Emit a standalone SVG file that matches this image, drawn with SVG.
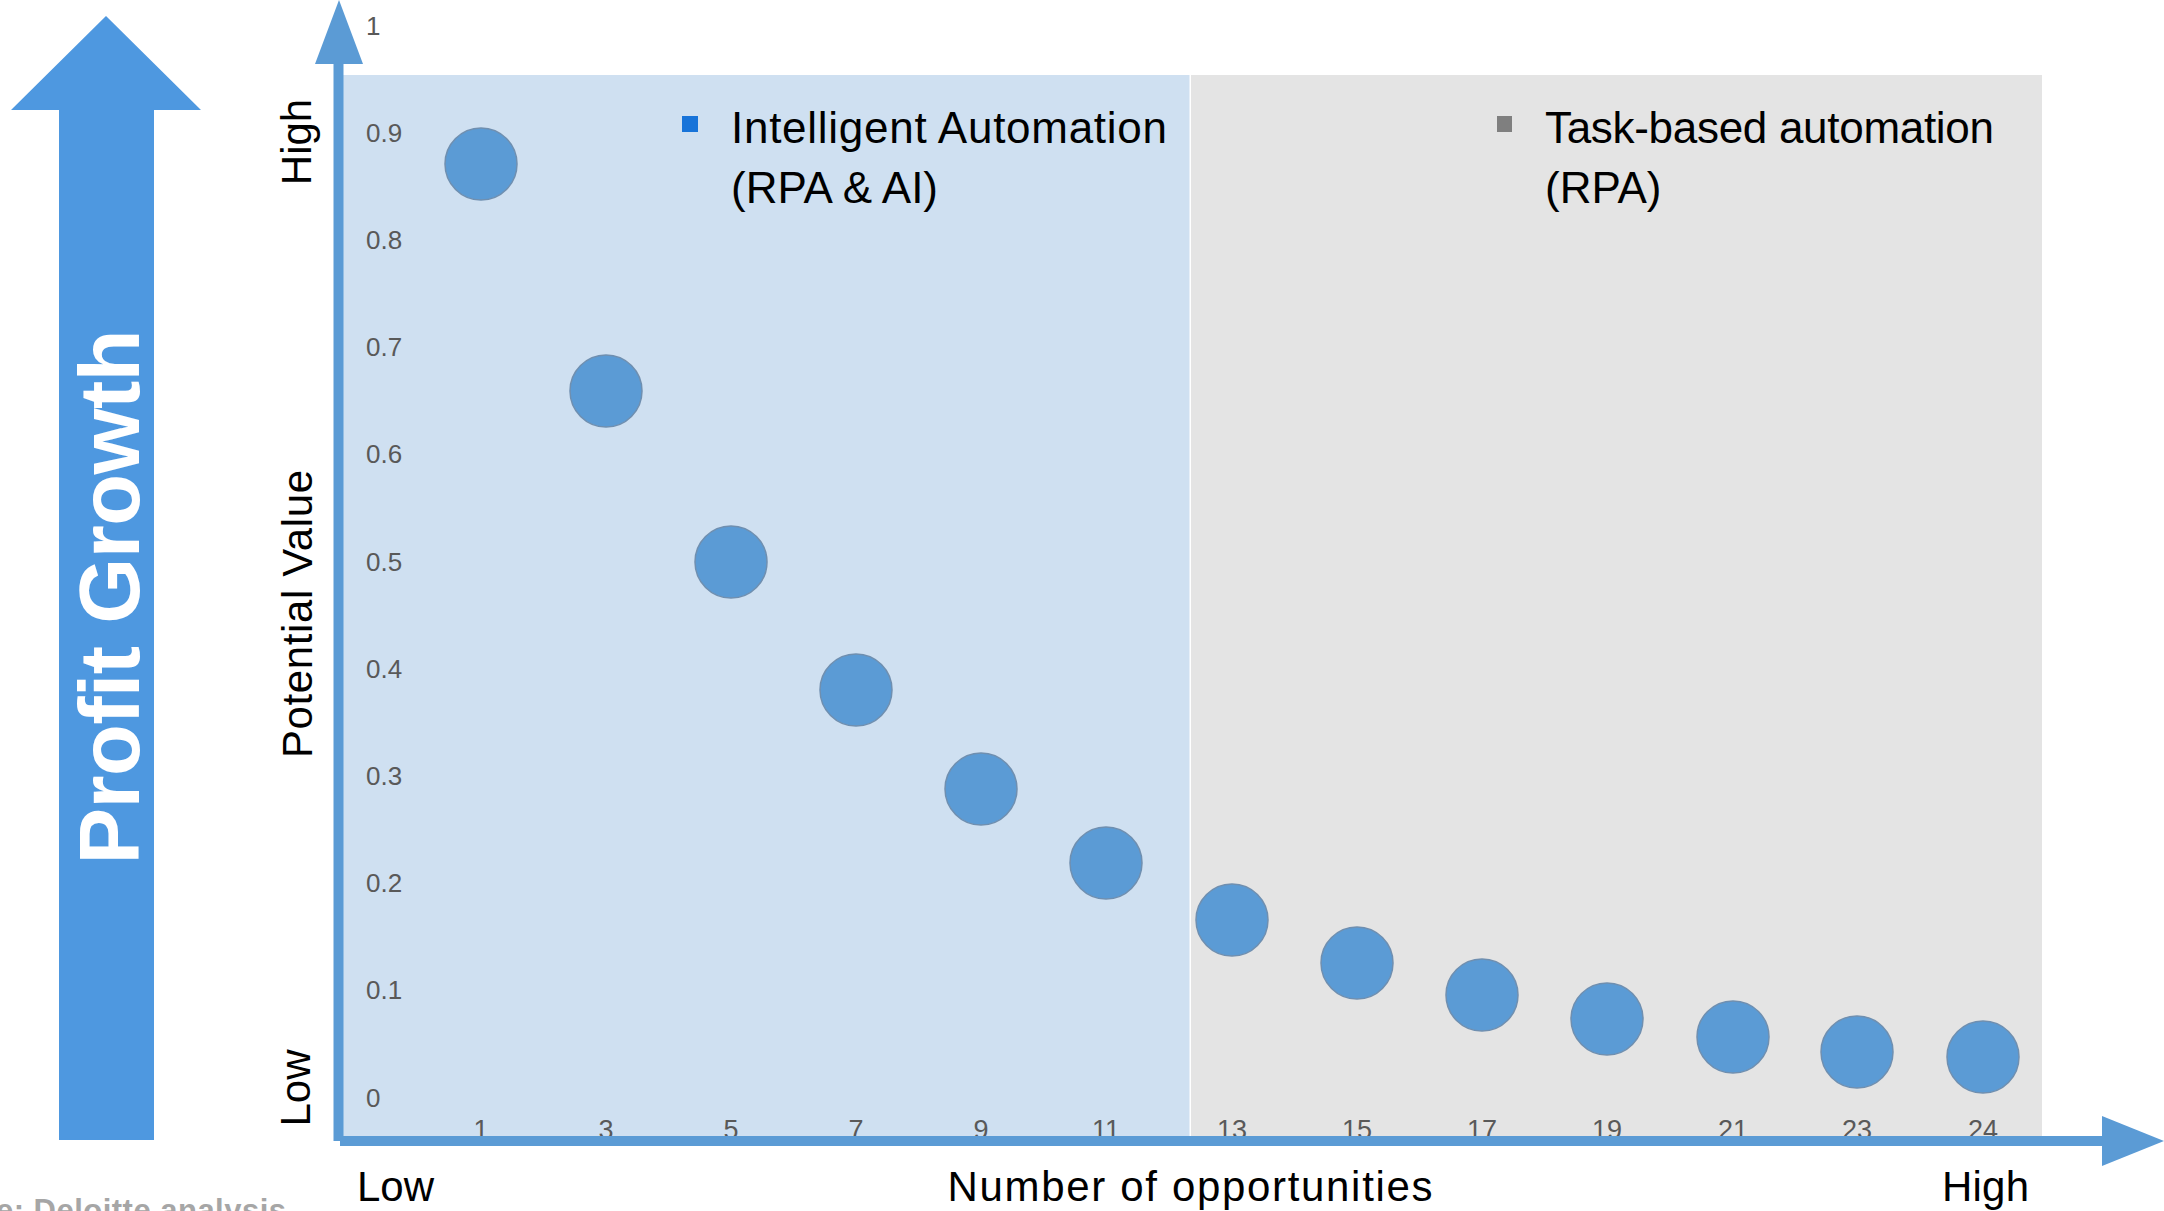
<svg xmlns="http://www.w3.org/2000/svg" width="2164" height="1211" viewBox="0 0 2164 1211">
<style>
.axis{fill:#5B9BD5}
.tick{font-family:"Liberation Sans",Arial,sans-serif;font-size:26px;fill:#595959}
.xt{text-anchor:middle;font-size:27px}
.lbl{font-family:"Liberation Sans",Arial,sans-serif;font-size:42px;fill:#000}
.leg{font-family:"Liberation Sans",Arial,sans-serif;font-size:44px;fill:#000}
.dot{fill:#5B9BD5;stroke:#6F8FB0;stroke-width:1.5}
</style>
<rect width="2164" height="1211" fill="#fff"/>
<g id="profit-growth">
<polygon points="106,16 201,110 154,110 154,1140 59,1140 59,110 11,110" fill="#4E98E0"/>
<text transform="translate(139,597) rotate(-90)" text-anchor="middle" font-family="'Liberation Sans',Arial,sans-serif" font-weight="bold" font-size="85" fill="#fff" textLength="535">Profit Growth</text>
</g>
<g id="regions">
<rect x="340" y="75" width="849.5" height="1065" fill="#CFE0F1"/>
<rect x="1191" y="75" width="851" height="1065" fill="#E4E4E4"/>
</g>
<g id="y-ticks" class="tick">
<text x="366" y="1107">0</text>
<text x="366" y="999">0.1</text>
<text x="366" y="892">0.2</text>
<text x="366" y="785">0.3</text>
<text x="366" y="678">0.4</text>
<text x="366" y="571">0.5</text>
<text x="366" y="463">0.6</text>
<text x="366" y="356">0.7</text>
<text x="366" y="249">0.8</text>
<text x="366" y="142">0.9</text>
<text x="366" y="35">1</text>
</g>
<g id="x-ticks" class="tick xt">
<text x="481" y="1139">1</text>
<text x="606" y="1139">3</text>
<text x="731" y="1139">5</text>
<text x="856" y="1139">7</text>
<text x="981" y="1139">9</text>
<text x="1106" y="1139">11</text>
<text x="1232" y="1139">13</text>
<text x="1357" y="1139">15</text>
<text x="1482" y="1139">17</text>
<text x="1607" y="1139">19</text>
<text x="1733" y="1139">21</text>
<text x="1857" y="1139">23</text>
<text x="1983" y="1139">24</text>
</g>
<g id="connectors">
<rect class="axis" x="333.5" y="63" width="10" height="1078"/>
<polygon class="axis" points="339,0 363,64 315,64"/>
<rect class="axis" x="340" y="1136" width="1764" height="10"/>
<polygon class="axis" points="2102,1116 2164,1141 2102,1166"/>
</g>
<g id="points">
<circle class="dot" cx="481" cy="164" r="36"/>
<circle class="dot" cx="606" cy="391" r="36"/>
<circle class="dot" cx="731" cy="562" r="36"/>
<circle class="dot" cx="856" cy="690" r="36"/>
<circle class="dot" cx="981" cy="789" r="36"/>
<circle class="dot" cx="1106" cy="863" r="36"/>
<circle class="dot" cx="1232" cy="920" r="36"/>
<circle class="dot" cx="1357" cy="963" r="36"/>
<circle class="dot" cx="1482" cy="995" r="36"/>
<circle class="dot" cx="1607" cy="1019" r="36"/>
<circle class="dot" cx="1733" cy="1037" r="36"/>
<circle class="dot" cx="1857" cy="1052" r="36"/>
<circle class="dot" cx="1983" cy="1057" r="36"/>
</g>
<g id="legend-ia">
<rect x="682" y="116" width="16" height="16" fill="#1874D9"/>
<text class="leg" x="731" y="143" textLength="436">Intelligent Automation</text>
<text class="leg" x="731" y="203">(RPA &amp; AI)</text>
</g>
<g id="legend-task">
<rect x="1497" y="116" width="15" height="16" fill="#7F7F7F"/>
<text class="leg" x="1545" y="143" textLength="449">Task-based automation</text>
<text class="leg" x="1545" y="203">(RPA)</text>
</g>
<g id="y-labels" class="lbl">
<text transform="translate(311,142) rotate(-90)" text-anchor="middle">High</text>
<text transform="translate(312,614) rotate(-90)" text-anchor="middle" textLength="288">Potential Value</text>
<text transform="translate(310,1088) rotate(-90)" text-anchor="middle">Low</text>
</g>
<g id="x-labels" class="lbl">
<text x="357" y="1201">Low</text>
<text x="1190" y="1201" text-anchor="middle" textLength="485">Number of opportunities</text>
<text x="1942" y="1201" textLength="87">High</text>
</g>
<text x="-4" y="1221" font-family="'Liberation Sans',Arial,sans-serif" font-weight="bold" font-size="31" fill="#A6A6A6" textLength="290">e: Deloitte analysis</text>
</svg>
